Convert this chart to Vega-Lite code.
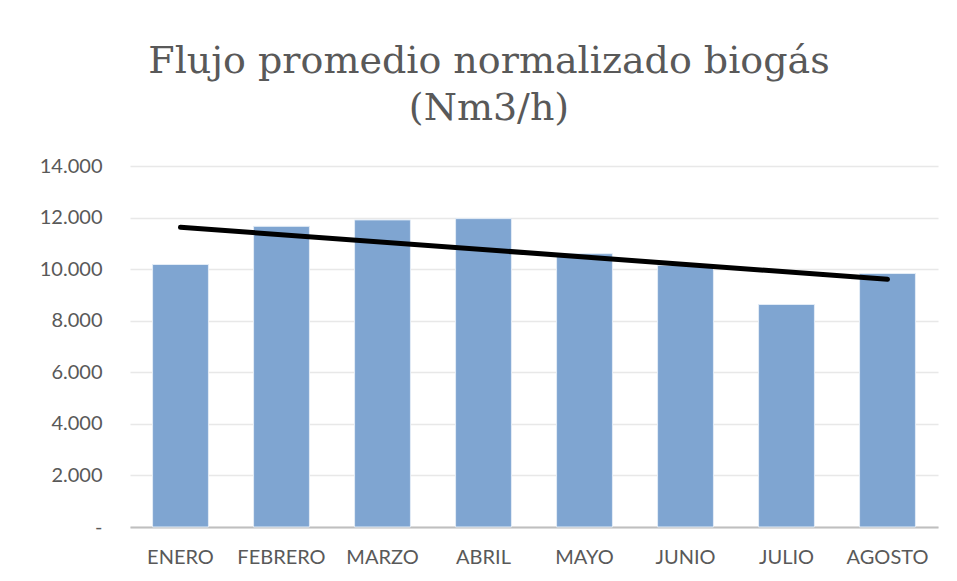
{
  "$schema": "https://vega.github.io/schema/vega-lite/v6.json",
  "width": 808,
  "height": 361,
  "autosize": "none",
  "padding": {"left": 130, "top": 166, "right": 19, "bottom": 54},
  "background": "white",
  "config": {
    "locale": {"number": {"decimal": ",", "thousands": ".", "grouping": [3], "currency": ["$", ""]}},
    "view": {"stroke": null}
  },
  "title": {
    "text": ["Flujo promedio normalizado biogás", "(Nm3/h)"],
    "font": "DejaVu Serif",
    "fontSize": 38,
    "fontWeight": "normal",
    "color": "#595959",
    "lineHeight": 47,
    "anchor": "middle",
    "dx": -45,
    "offset": 28
  },
  "datasets": {
    "meses": [
      {"mes": "ENERO", "idx": 1, "valor": 10180},
      {"mes": "FEBRERO", "idx": 2, "valor": 11660},
      {"mes": "MARZO", "idx": 3, "valor": 11910},
      {"mes": "ABRIL", "idx": 4, "valor": 11960},
      {"mes": "MAYO", "idx": 5, "valor": 10600},
      {"mes": "JUNIO", "idx": 6, "valor": 10150},
      {"mes": "JULIO", "idx": 7, "valor": 8630},
      {"mes": "AGOSTO", "idx": 8, "valor": 9830}
    ]
  },
  "data": {"name": "meses"},
  "layer": [
    {
      "mark": {"type": "bar", "color": "#7fa5d1", "stroke": "#e3ecf6", "strokeWidth": 1},
      "encoding": {
        "x": {
          "field": "mes",
          "type": "nominal",
          "scale": {
            "domain": ["ENERO", "FEBRERO", "MARZO", "ABRIL", "MAYO", "JUNIO", "JULIO", "AGOSTO"],
            "paddingInner": 0.447,
            "paddingOuter": 0.2235
          },
          "axis": {
            "title": null,
            "labelAngle": 0,
            "labelFont": "Lato",
            "labelFontSize": 20,
            "labelColor": "#595959",
            "labelPadding": 20,
            "ticks": false,
            "domainColor": "#bfbfbf",
            "domainWidth": 2,
            "grid": false
          }
        },
        "y": {
          "field": "valor",
          "type": "quantitative",
          "scale": {"domain": [0, 14000], "nice": false},
          "axis": {
            "title": null,
            "values": [0, 2000, 4000, 6000, 8000, 10000, 12000, 14000],
            "format": ",.0f",
            "labelExpr": "datum.value === 0 ? '-' : datum.label",
            "labelFont": "Lato",
            "labelFontSize": 20,
            "labelColor": "#595959",
            "labelPadding": 28,
            "ticks": false,
            "domain": false,
            "grid": true,
            "gridColor": "#e8e8e8",
            "gridWidth": 1.5
          }
        }
      }
    },
    {
      "transform": [
        {"regression": "valor", "on": "idx"},
        {"lookup": "idx", "from": {"data": {"name": "meses"}, "key": "idx", "fields": ["mes"]}}
      ],
      "mark": {"type": "line", "color": "black", "strokeWidth": 5, "strokeCap": "round"},
      "encoding": {
        "x": {"field": "mes", "type": "nominal"},
        "y": {"field": "valor", "type": "quantitative"}
      }
    }
  ]
}
